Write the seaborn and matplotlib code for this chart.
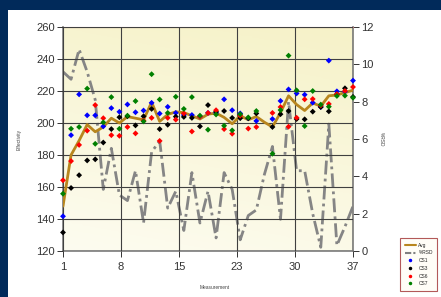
import numpy as np
import pandas as pd
import matplotlib
matplotlib.use('Agg')
import matplotlib.pyplot as plt
from matplotlib.patches import Rectangle
from matplotlib.lines import Line2D
import seaborn as sns

# values
measurement = list(range(1, 38))
cs1 = [141.7, 192.4, 217.9, 204.8, 204.8, 197.9, 209.3, 207.0, 211.6, 206.7, 207.8, 212.6, 205.9,
       210.1, 206.3, 205.0, 205.0, 204.0, 206.3, 206.3, 214.8, 208.0, 206.0, 203.0, 201.3, np.nan,
       202.5, 213.8, 221.0, 218.5, 217.7, 212.7, 210.0, 239.0, 219.8, 219.6, 226.5]
cs3 = [131.6, 159.4, 167.4, 176.6, 177.3, 187.8, 196.2, 203.6, 204.2, 198.5, 204.2, 208.8, 196.2,
       198.9, 204.0, 203.8, 203.2, 197.9, 211.2, 207.0, 207.5, 203.2, 203.0, 203.0, 206.0, np.nan,
       197.5, 205.5, 207.5, 202.5, 202.3, 207.1, 210.0, 207.3, 218.0, 221.7, 216.3]
cs6 = [164.2, 176.2, 186.3, 195.2, 211.2, 203.0, 192.4, 192.0, 197.5, 193.5, 201.5, 203.2, 188.8,
       203.2, 202.1, 206.0, 194.7, 204.0, 206.3, 208.0, 196.2, 193.3, 204.6, 196.5, 197.5, np.nan,
       206.3, 210.0, 197.7, 203.3, 214.8, 215.0, 211.0, 211.9, 218.0, 220.0, 222.5]
cs7 = [155.8, 196.4, 197.5, 221.5, 187.0, 200.4, 216.2, 196.4, 204.6, 213.7, 201.0, 230.5, 214.7,
       206.3, 216.4, 208.8, 216.2, 204.6, 195.8, 205.3, 198.3, 195.4, 205.5, 203.5, 207.5, np.nan,
       180.8, 208.1, 242.1, 220.4, 198.1, 220.0, 211.5, 210.2, 216.9, 217.1, 215.8]
avg = [148, 180, 189, 199, 194.5, 197.5, 203, 200, 204, 203, 202, 213, 201, 205.3, 207, 206.5,
       204.5, 202.5, 205.5, 206.2, 203.5, 199.5, 204.5, 202, 204, 200.5, 197.5, 206.5, 217,
       211.5, 207.8, 212.5, 210.5, 217, 217.5, 219, 220.5]
rsd = [9.6, 9.2, 10.8, 9.6, 8.1, 3.3, 5.5, 3.0, 2.7, 4.3, 1.5, 5.3, 5.9, 2.3, 3.2, 1.1, 4.2, 1.5,
       3.2, 0.7, 4.2, 3.3, 0.6, 1.9, 2.2, 4.1, 5.6, 1.7, 8.0, 4.3, 4.3, 2.0, 0.2, 6.8, 0.3, 1.3, 2.4]
x_labels = ['1', '8', '15', '23', '30', '37']
series_names = ['CS1', 'CS3', 'CS6', 'CS7']
series_colors = ['#0000ff', '#000000', '#ff0000', '#008000']

sns.set_theme(style='white')
plt.rcParams['font.family'] = ['Liberation Sans Narrow', 'Liberation Sans', 'DejaVu Sans']

df = pd.DataFrame({'Measurement': measurement, 'CS1': cs1, 'CS3': cs3, 'CS6': cs6, 'CS7': cs7,
                   'Avg': avg, 'RSD': rsd})
pts = df.melt(id_vars='Measurement', value_vars=series_names, var_name='series', value_name='val')

fig = plt.figure(figsize=(4.41, 2.97), dpi=100, facecolor='#012a5a')
fig.patches.append(Rectangle((8 / 441, 0), 1, 1 - 10 / 297, transform=fig.transFigure,
                             facecolor='white', edgecolor='none', zorder=0))

ax = fig.add_axes([63 / 441, 46 / 297, 290 / 441, 224 / 297])
ax2 = ax.twinx()
ax.set_zorder(2)
ax2.set_zorder(1)
ax.patch.set_visible(False)

# pale yellow background, stronger at the top
grad = np.linspace(1, 0, 100)[:, None] * 0.8 + np.linspace(0, 1, 100)[None, :] * 0.2
bg = matplotlib.colors.LinearSegmentedColormap.from_list('bg', ['#fdfcf0', '#f6f2c8'])
ax2.imshow(grad, extent=[0, 1, 0, 1], transform=ax2.transAxes, cmap=bg, aspect='auto', zorder=0)

sns.lineplot(data=df, x='Measurement', y='RSD', ax=ax2, color='#858585', lw=2.0,
             linestyle=(0, (5, 1.5, 1, 1.5)), zorder=3)
sns.lineplot(data=df, x='Measurement', y='Avg', ax=ax, color='#b8861e', lw=2.0, zorder=3)
sns.scatterplot(data=pts, x='Measurement', y='val', hue='series', palette=series_colors,
                marker='D', s=9, linewidth=0, ax=ax, zorder=4, clip_on=False, legend=False)

ax.set_xlim(1, 37)
ax.set_ylim(120, 260)
ax2.set_ylim(0, 12)
ax.set_xticks(np.linspace(1, 37, 6))
ax.set_xticklabels(x_labels)
ax.set_yticks(range(120, 261, 20))
ax2.set_yticks(range(0, 13, 2))
ax.grid(True, color='#404040', lw=0.8)
ax2.grid(False)

for a in (ax, ax2):
    for s in a.spines.values():
        s.set_visible(False)
for side in ('left', 'right', 'bottom'):
    ax2.spines[side].set_visible(True)
    ax2.spines[side].set_color('#808080')
ax2.spines['top'].set_visible(True)
ax2.spines['top'].set_color('#c07070')
ax2.spines['top'].set_linewidth(0.8)

ax.tick_params(axis='both', labelsize=8, colors='#333333', length=4, width=0.7, pad=2,
               direction='out', left=True, bottom=True)
ax.tick_params(axis='x', pad=4)
ax2.tick_params(axis='y', labelsize=8, colors='#333333', length=4, width=0.7, pad=2,
                direction='out', right=True)

ax.set_xlabel('Measurement', fontsize=3.5, color='#444444')
ax.set_ylabel('Effectivity', fontsize=3.5, color='#444444')
ax2.set_ylabel('%RSD', fontsize=3.5, color='#444444', rotation=270)
ax.xaxis.set_label_coords(0.524, -0.152)
ax.yaxis.set_label_coords(-0.141, 0.5)
ax2.yaxis.set_label_coords(1.107, 0.5)

handles = [Line2D([], [], color='#b8861e', lw=1.5),
           Line2D([], [], color='#808080', lw=1.5, linestyle=(0, (3, 1, 1, 1)))]
handles += [Line2D([], [], color=c, marker='o', ms=1.5, lw=0) for c in series_colors]
leg = fig.legend(handles, ['Avg', '%RSD'] + series_names, loc='upper left',
                 bbox_to_anchor=(398 / 441, 1 - 236 / 297), fontsize=3.5, frameon=True,
                 fancybox=False, edgecolor='#a03030', facecolor='#fffdf5',
                 handlelength=2.2, labelspacing=0.55, borderpad=0.9, handletextpad=0.6)
leg.get_frame().set_linewidth(0.8)

fig.savefig('out.png', dpi=100, facecolor=fig.get_facecolor())
